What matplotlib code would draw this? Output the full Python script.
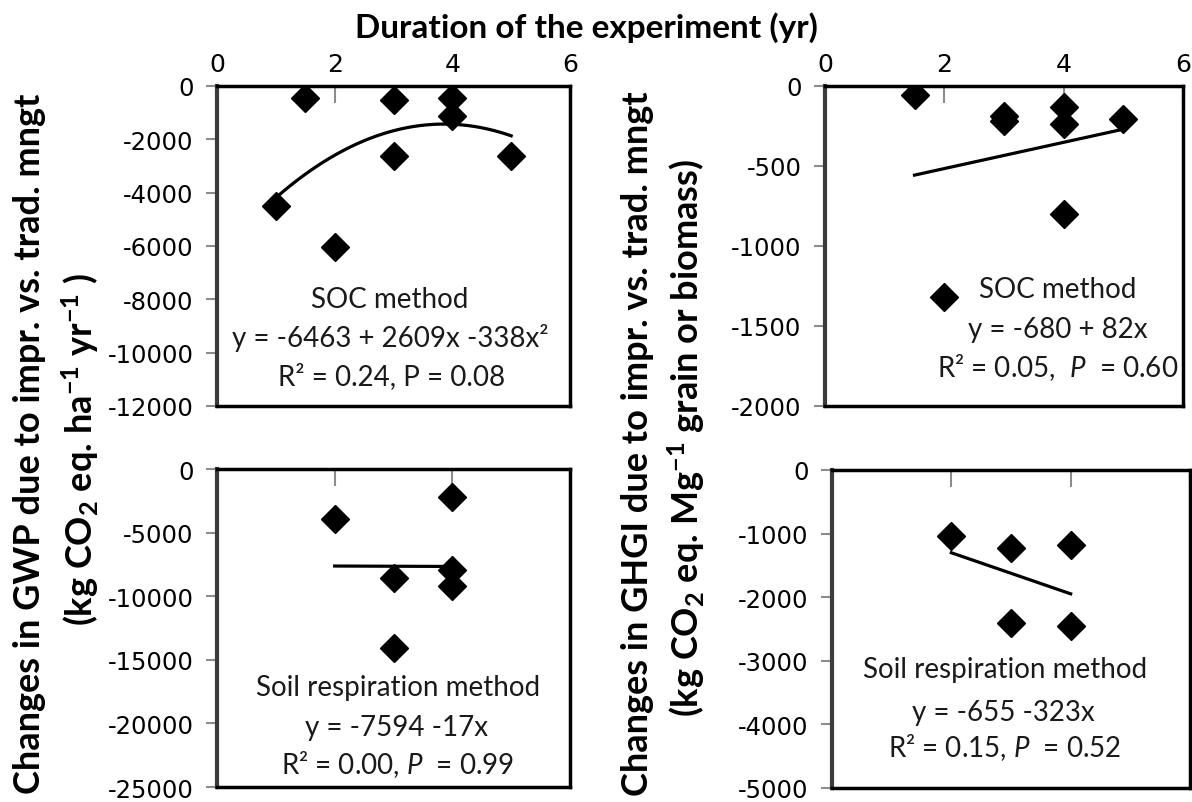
import numpy as np
import matplotlib
matplotlib.use("Agg")
import matplotlib.pyplot as plt

plt.rcParams["mathtext.fontset"] = "custom"
plt.rcParams["mathtext.rm"] = "Lato"
plt.rcParams["mathtext.it"] = "Lato:italic"
plt.rcParams["mathtext.bf"] = "Lato:bold"
plt.rcParams["axes.unicode_minus"] = False

W, H = 1192, 803

# SOC method, GWP (top left)
soc_gwp_x = [1.0, 1.5, 2.0, 3.0, 3.0, 4.0, 4.0, 5.0]
soc_gwp_y = [-4500, -450, -6050, -520, -2620, -450, -1130, -2620]
soc_gwp_fit = [-6463, 2609, -338]  # a + b x + c x^2
soc_gwp_range = [1.0, 5.0]

# SOC method, GHGI (top right)
soc_ghgi_x = [1.5, 2.0, 3.0, 3.0, 4.0, 4.0, 4.0, 5.0]
soc_ghgi_y = [-55, -1320, -190, -220, -130, -235, -800, -205]
soc_ghgi_fit = [-680, 82]
soc_ghgi_range = [1.5, 5.0]

# Soil respiration method, GWP (bottom left)
resp_gwp_x = [2.0, 3.0, 3.0, 4.0, 4.0, 4.0]
resp_gwp_y = [-3900, -8600, -14100, -2200, -7950, -9200]
resp_gwp_fit = [-7594, -17]
resp_gwp_range = [2.0, 4.0]

# Soil respiration method, GHGI (bottom right)
resp_ghgi_x = [2.0, 3.0, 3.0, 4.0, 4.0]
resp_ghgi_y = [-1040, -1230, -2400, -1180, -2450]
resp_ghgi_fit = [-655, -323]
resp_ghgi_range = [2.0, 4.0]

x_ticks = [0, 2, 4, 6]


def px_axes(left, top, right, bottom):
    return [left / W, 1 - bottom / H, (right - left) / W, (bottom - top) / H]


def style_axes(ax, ylim, yticks, show_xlabels):
    ax.set_xlim(0, 6)
    ax.set_ylim(*ylim)
    ax.set_yticks(yticks)
    ax.set_xticks(x_ticks)
    ax.xaxis.tick_top()
    ax.tick_params(axis="x", direction="in", length=12, width=1.5, color="#8c8c8c",
                   labeltop=show_xlabels, labelbottom=False, pad=7, labelsize=18)
    ax.tick_params(axis="y", direction="out", length=8, width=1.5, color="#8c8c8c",
                   pad=9, labelsize=17.5)
    for side in ["top", "bottom", "right"]:
        ax.spines[side].set_color("black")
        ax.spines[side].set_linewidth(2.5)
    ax.spines["left"].set_color("#3c3c3c")
    ax.spines["left"].set_linewidth(3)
    for lab in ax.get_xticklabels() + ax.get_yticklabels():
        lab.set_fontfamily("DejaVu Sans")


def fit_line(ax, coefs, xr):
    xs = np.linspace(xr[0], xr[1], 100)
    ys = np.zeros_like(xs)
    for i, c in enumerate(coefs):
        ys = ys + c * xs ** i
    ax.plot(xs, ys, color="black", lw=2.3, zorder=2)


fig = plt.figure(figsize=(W / 100, H / 100), dpi=100)

ax1 = fig.add_axes(px_axes(217, 87, 570, 407))
ax2 = fig.add_axes(px_axes(825, 87, 1183, 407))
ax3 = fig.add_axes(px_axes(217, 470, 570, 788))
ax4 = fig.add_axes(px_axes(832, 471, 1190, 789))

mk = dict(marker="D", markersize=14.5, color="black", linestyle="none", zorder=3)

ax1.plot(soc_gwp_x, soc_gwp_y, **mk)
fit_line(ax1, soc_gwp_fit, soc_gwp_range)
style_axes(ax1, (-12000, 0), np.arange(-12000, 1, 2000), True)

ax2.plot(soc_ghgi_x, soc_ghgi_y, **mk)
fit_line(ax2, soc_ghgi_fit, soc_ghgi_range)
style_axes(ax2, (-2000, 0), np.arange(-2000, 1, 500), True)

ax3.plot(resp_gwp_x, resp_gwp_y, **mk)
fit_line(ax3, resp_gwp_fit, resp_gwp_range)
style_axes(ax3, (-25000, 0), np.arange(-25000, 1, 5000), False)

ax4.plot(resp_ghgi_x, resp_ghgi_y, **mk)
fit_line(ax4, resp_ghgi_fit, resp_ghgi_range)
style_axes(ax4, (-5000, 0), np.arange(-5000, 1, 1000), False)


def ftext(x, y, s, **kw):
    fig.text(x / W, 1 - y / H, s, ha="center", va="center", **kw)


ann = dict(fontsize=20, family="Lato", color="#1a1a1a")

ftext(390, 300, "SOC method", **ann)
ftext(390, 338, "y = -6463 + 2609x -338x²", **ann)
ftext(392, 377, "R² = 0.24, P = 0.08", **ann)

ftext(1058, 290, "SOC method", **ann)
ftext(1058, 330, "y = -680 + 82x", **ann)
ftext(1058, 368, r"R² = 0.05,  $\mathit{P}$  = 0.60", **ann)

ftext(398, 688, "Soil respiration method", **ann)
ftext(397, 728, "y = -7594 -17x", **ann)
ftext(398, 765, r"R² = 0.00, $\mathit{P}$  = 0.99", **ann)

ftext(1005, 670, "Soil respiration method", **ann)
ftext(1003, 713, "y = -655 -323x", **ann)
ftext(1005, 748, r"R² = 0.15, $\mathit{P}$  = 0.52", **ann)

# Title and axis titles
ftext(586, 28, "Duration of the experiment (yr)", fontsize=24, family="Lato", weight="bold")

lab = dict(fontsize=26, family="Lato", weight="bold", rotation=90)
ftext(30, 444, "Changes in GWP due to impr. vs. trad. mngt", **lab)
ftext(80, 450, r"(kg CO$_\mathbf{2}$ eq. ha$^\mathbf{-1}$ yr$^\mathbf{-1}$ )", **lab)
ftext(638, 444, "Changes in GHGI due to impr. vs. trad. mngt", **lab)
ftext(686, 438, r"(kg CO$_\mathbf{2}$ eq. Mg$^\mathbf{-1}$ grain or biomass)", **lab)

fig.savefig("out.png", dpi=100)
